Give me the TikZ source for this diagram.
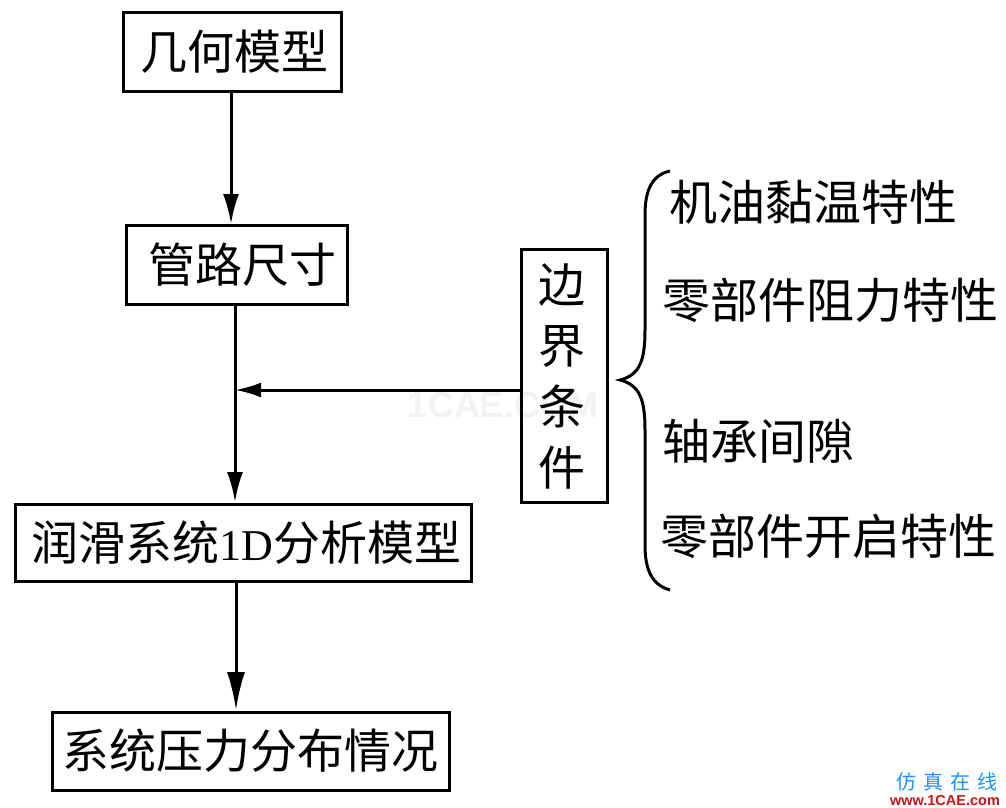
\documentclass[tikz,border=0pt]{standalone}
\usepackage{fontspec}
\newfontfamily\cjk{Noto Sans CJK SC}
\setmainfont{Liberation Serif}
\setsansfont{Liberation Sans}
\usetikzlibrary{arrows.meta}
\tikzset{
 boxn/.style={draw,line width=3pt,inner sep=0pt,font=\cjk\fontsize{47}{47}\selectfont},
 lab/.style={inner sep=0pt,anchor=west,font=\cjk\fontsize{48}{48}\selectfont},
 conn/.style={line width=3pt,-{Latex[length=30pt,width=16pt]}},
 connb/.style={line width=3pt,-{Latex[length=38pt,width=18pt]}},
 connc/.style={line width=3pt,-{Latex[length=26pt,width=15pt]}},
}
\begin{document}
\begin{tikzpicture}[x=1pt,y=-1pt]
\useasboundingbox (0,0) rectangle (1006,808);
\fill[white] (0,0) rectangle (1006,808);
\node[inner sep=0pt,text=black!5,font=\sffamily\bfseries\fontsize{36}{36}\selectfont] (w) at (503,405) {1CAE.COM};
\node[boxn,minimum width=218,minimum height=79] (a) at (232.5,52) {\hspace*{4pt}几何模型};
\node[boxn,minimum width=221,minimum height=79] (b) at (236.5,265) {\hspace*{12pt}管路尺寸};
\node[boxn,minimum width=456,minimum height=77] (c) at (243.5,543) {\hspace*{6pt}\raisebox{-3pt}{润滑系统{\rmfamily\fontsize{44}{44}\selectfont 1D}分析模型}};
\node[boxn,minimum width=397,minimum height=78] (d) at (250.5,751) {\hspace*{0pt}\raisebox{3pt}{系统压力分布情况}};
\node[boxn,minimum width=86,minimum height=253,align=center] (e) at (564,376) {\hspace*{-4pt}边\\[14pt]\hspace*{-4pt}界\\[14pt]\hspace*{-4pt}条\\[14pt]\hspace*{-4pt}件};
\coordinate (j) at (235,390);
\draw[conn] (231,91) -- (231,224);
\draw[line width=3pt] (235,306) -- (j);
\draw[conn] (j) -- (235,502);
\draw[connc] (e.west |- j) -- (j);
\draw[connb] (236,583) -- (236,710);
\draw[line width=3pt] (670,171) .. controls (652,175) and (645,190) .. (645,215) -- (645,330) .. controls (645,360) and (640,375) .. (620,380) .. controls (640,385) and (645,400) .. (645,430) -- (645,545) .. controls (645,570) and (652,585) .. (670,590);
\node[lab] (l1) at (669,202) {机油黏温特性};
\node[lab] (l2) at (662,300) {零部件阻力特性};
\node[lab] (l3) at (662,441) {轴承间隙};
\node[lab] (l4) at (660,536) {零部件开启特性};
\node[inner sep=0pt,text={rgb,255:red,30;green,144;blue,255},font=\cjk\fontsize{20}{20}\selectfont] (m1) at (947,782) {仿\hspace{7pt}真\hspace{7pt}在\hspace{7pt}线};
\node[inner sep=0pt,text={rgb,255:red,204;green,20;blue,20},font=\sffamily\bfseries\fontsize{14.5}{14.5}\selectfont] (m2) at (945,800) {www.1CAE.com};
\end{tikzpicture}
\end{document}
